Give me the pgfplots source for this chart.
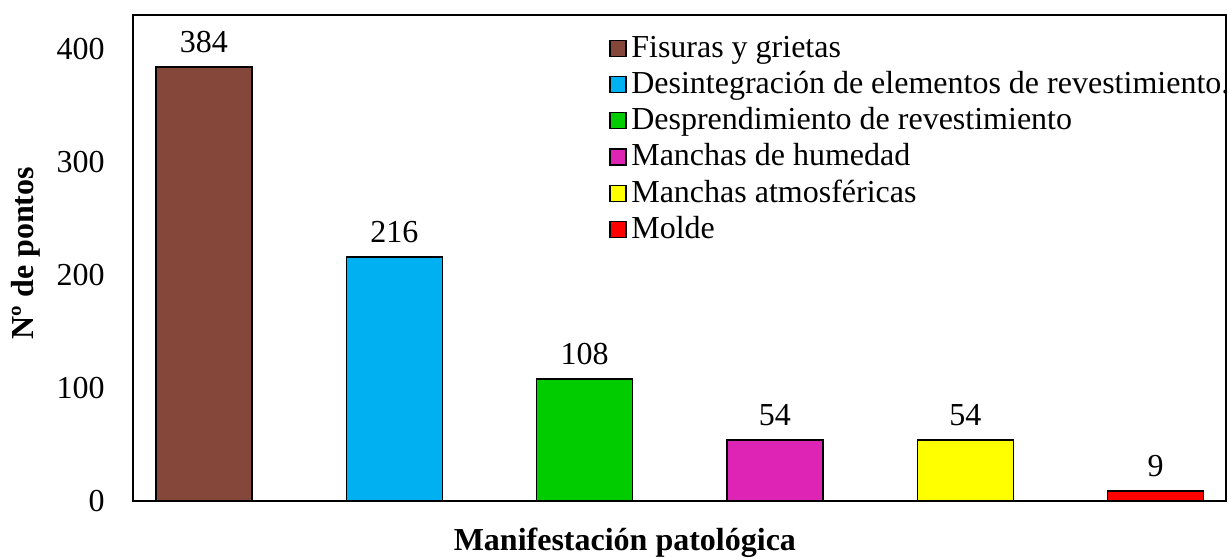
\documentclass[border=0pt]{standalone}
\usepackage{pgfplots}
\pgfplotsset{compat=1.18}
\usepackage{fontspec}
\setmainfont{Liberation Serif}
\definecolor{c1}{RGB}{133,71,58}
\definecolor{c2}{RGB}{0,176,240}
\definecolor{c3}{RGB}{0,204,0}
\definecolor{c4}{RGB}{221,36,180}
\definecolor{c5}{RGB}{255,255,0}
\definecolor{c6}{RGB}{255,0,0}
\newcommand{\fs}{\fontsize{16}{19}\selectfont}
\begin{document}
\begin{tikzpicture}
\begin{axis}[
 at={(0,0)}, anchor=south west,
 scale only axis, width=546.5pt, height=243pt,
 xmin=-0.373, xmax=5.37, ymin=0, ymax=430,
 xtick=\empty, ytick={0,100,200,300,400},
 major tick length=0pt,
 axis line style={line width=0.6pt},
 ybar, bar width=0.5045, bar shift=0pt,
 /pgf/number format/assume math mode=true,
 tick label style={font=\fs},
 yticklabel style={inner sep=0pt, xshift=-14pt},
 nodes near coords,
 nodes near coords style={font=\fs, inner sep=0pt, anchor=south, yshift=6.5pt},
 every axis y label/.style={at={(axis description cs:0,0.51)}, xshift=-53.75pt, rotate=90, anchor=center, font=\bfseries\fs},
 every axis x label/.style={at={(axis description cs:0.45,0)}, yshift=-21pt, anchor=center, font=\bfseries\fs},
 xlabel={Manifestación patológica}, ylabel={Nº de pontos},
 legend style={at={(axis description cs:0.4355,0.963)}, anchor=north west, draw=none, fill=none, inner sep=0pt, row sep=2.1pt, font=\fs, nodes={inner sep=0pt, text height=12pt, text depth=4pt}},
 legend cell align=left,
 legend image code/.code={\draw[#1,draw=black,line width=0.6pt] (0pt,-3.5pt) rectangle (8pt,4.5pt); \path (10.3pt,0pt);},
 every axis plot/.append style={draw=black, line width=0.7pt},
]
\addplot[fill=c1] coordinates {(0,384)};
\addlegendentry{Fisuras y grietas}
\addplot[fill=c2] coordinates {(1,216)};
\addlegendentry{Desintegración de elementos de revestimiento.}
\addplot[fill=c3] coordinates {(2,108)};
\addlegendentry{Desprendimiento de revestimiento}
\addplot[fill=c4] coordinates {(3,54)};
\addlegendentry{Manchas de humedad}
\addplot[fill=c5] coordinates {(4,54)};
\addlegendentry{Manchas atmosféricas}
\addplot[fill=c6] coordinates {(5,9)};
\addlegendentry{Molde}
\end{axis}
\pgfresetboundingbox
\path[use as bounding box] (-66.5pt,-28.5pt) rectangle (548pt,250.5pt);
\end{tikzpicture}
\end{document}
